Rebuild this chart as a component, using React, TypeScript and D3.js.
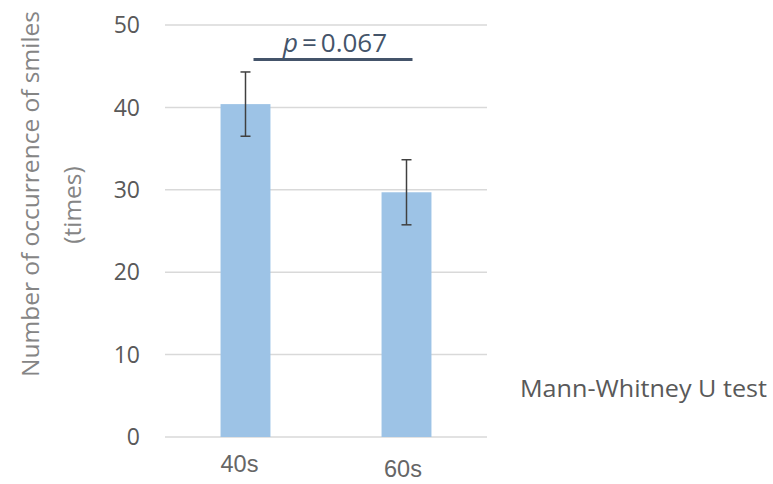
import React from "react";
import * as d3 from "d3";

const categories = ["40s", "60s"];
const means = [40.4, 29.7];
const errors = [3.9, 3.95];
const yTicks = [0, 10, 20, 30, 40, 50];
const pLabel = "0.067";
const testNote = "Mann-Whitney U test";
const yTitle = ["Number of occurrence of smiles", "(times)"];

const W = 773;
const H = 484;
const plot = { left: 165, right: 487, top: 25, bottom: 437 };

export default function App() {
  const x = d3
    .scaleBand<string>()
    .domain(categories)
    .range([plot.left, plot.right])
    .paddingInner(0.69)
    .paddingOuter(0.345);
  const y = d3.scaleLinear().domain([0, 50]).range([plot.bottom, plot.top]);
  const font = "'Open Sans', 'Noto Sans', sans-serif";
  const cx = (c: string) => (x(c) as number) + x.bandwidth() / 2;

  // significance bracket sits just above the taller error bar
  const sigY = y(45.8);
  return (
    <svg
      width={W}
      height={H}
      style={{ position: "absolute", left: 0, top: 0, background: "#fff" }}
    >
      {yTicks.map((t) => (
        <g key={t}>
          <line
            x1={plot.left}
            x2={plot.right}
            y1={y(t)}
            y2={y(t)}
            stroke="#d9d9d9"
            strokeWidth={1.5}
          />
          <text
            x={140}
            y={y(t)}
            dy="0.36em"
            textAnchor="end"
            fontFamily={font}
            fontSize={23}
            fill="#595959"
          >
            {t}
          </text>
        </g>
      ))}
      {categories.map((c, i) => (
        <g key={c}>
          <rect
            x={x(c)}
            y={y(means[i])}
            width={x.bandwidth()}
            height={y(0) - y(means[i])}
            fill="#9dc3e6"
          />
          <line
            x1={cx(c)}
            x2={cx(c)}
            y1={y(means[i] + errors[i])}
            y2={y(means[i] - errors[i])}
            stroke="#404040"
            strokeWidth={1.5}
          />
          {[means[i] + errors[i], means[i] - errors[i]].map((v, k) => (
            <line
              key={k}
              x1={cx(c) - 5}
              x2={cx(c) + 5}
              y1={y(v)}
              y2={y(v)}
              stroke="#404040"
              strokeWidth={1.5}
            />
          ))}
          <text
            x={cx(c) - (i === 0 ? 6 : 3.5)}
            y={i === 0 ? 472 : 477}
            textAnchor="middle"
            fontFamily="'Liberation Sans', Arial, sans-serif"
            fontSize={23.5}
            fill="#666666"
          >
            {c}
          </text>
        </g>
      ))}
      <line
        x1={cx(categories[0]) + 8}
        x2={cx(categories[1]) + 6}
        y1={sigY}
        y2={sigY}
        stroke="#44546a"
        strokeWidth={3}
      />
      <text
        x={335}
        y={52}
        textAnchor="middle"
        fontFamily={font}
        fontSize={26}
        fill="#44546a"
      >
        <tspan fontStyle="italic">p</tspan>
        <tspan dx={4}>=</tspan>
        <tspan dx={4}>{pLabel}</tspan>
      </text>
      <text
        x={767}
        y={397}
        textAnchor="end"
        fontFamily={font}
        fontSize={24}
        textLength={247}
        lengthAdjust="spacingAndGlyphs"
        fill="#595959"
      >
        {testNote}
      </text>
      <g fontFamily={font} fontSize={24.5} fill="#858585" textAnchor="middle">
        <text transform={`translate(39, 194) rotate(-90)`}>{yTitle[0]}</text>
        <text transform={`translate(81, 205) rotate(-90)`}>{yTitle[1]}</text>
      </g>
    </svg>
  );
}
